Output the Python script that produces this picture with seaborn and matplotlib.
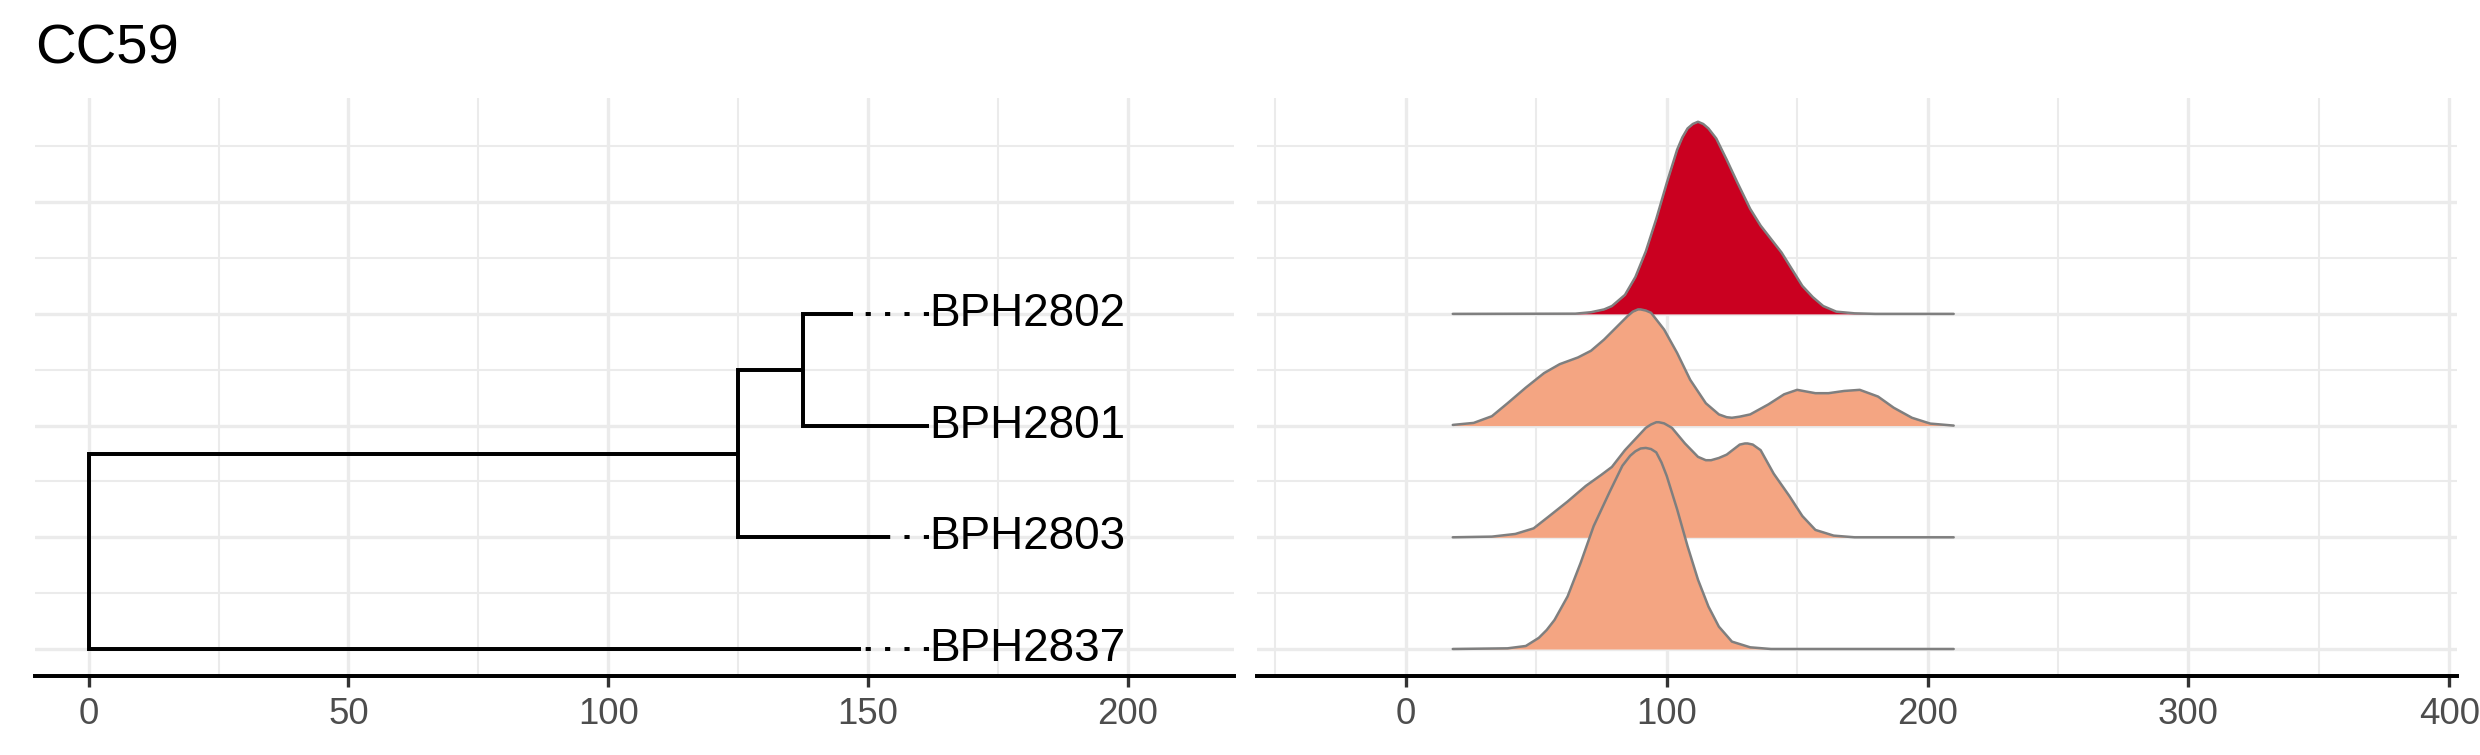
import matplotlib
matplotlib.use('Agg')
import matplotlib.pyplot as plt
from matplotlib.ticker import MultipleLocator
import pandas as pd
import seaborn as sns

# --- datos del arbol ---
tip_labels = ['BPH2837', 'BPH2803', 'BPH2801', 'BPH2802']
tip_rows = [1, 2, 3, 4]
tip_x = [148.6, 153.7, 161.8, 147.1]
node_names = ['root', 'n1', 'n2']
node_x = [0.0, 125.0, 137.5]
edge_child = ['BPH2837', 'n1', 'BPH2803', 'n2', 'BPH2801', 'BPH2802']
edge_parent = ['root', 'root', 'n1', 'n1', 'n2', 'n2']

# --- densidades (altura en unidades de fila) ---
x_bph2837 = [18, 39, 46, 51, 54, 57, 62, 67, 72, 78, 83, 86, 88, 90, 92, 94, 96, 98, 100, 104, 108, 112, 116, 120, 125, 132, 140, 210]
h_bph2837 = [0, 0.006, 0.027, 0.10, 0.17, 0.26, 0.47, 0.77, 1.10, 1.40, 1.64, 1.73, 1.77, 1.795, 1.80, 1.79, 1.76, 1.67, 1.55, 1.25, 0.92, 0.62, 0.38, 0.20, 0.066, 0.015, 0, 0]

x_bph2803 = [18, 33, 42, 49, 55, 62, 69, 75, 79, 84, 90, 92, 94, 96, 97, 99, 102, 107, 112, 115, 117, 120, 123, 128, 130, 131, 133, 136, 141, 147, 152, 157, 164, 172, 210]
h_bph2803 = [0, 0.006, 0.03, 0.08, 0.19, 0.32, 0.46, 0.56, 0.63, 0.78, 0.93, 0.98, 1.01, 1.03, 1.03, 1.02, 0.98, 0.84, 0.72, 0.69, 0.69, 0.71, 0.74, 0.83, 0.84, 0.84, 0.83, 0.78, 0.57, 0.37, 0.19, 0.066, 0.015, 0, 0]

x_bph2801 = [18, 26, 33, 39, 46, 53, 59, 66, 71, 76, 82, 85, 87, 89, 90, 92, 94, 99, 104, 109, 115, 120, 123, 125, 128, 132, 139, 145, 150, 157, 162, 168, 174, 181, 187, 194, 201, 210]
h_bph2801 = [0.006, 0.024, 0.084, 0.20, 0.34, 0.47, 0.55, 0.61, 0.67, 0.77, 0.91, 0.98, 1.02, 1.04, 1.04, 1.03, 1.01, 0.86, 0.65, 0.41, 0.20, 0.10, 0.075, 0.07, 0.08, 0.10, 0.19, 0.28, 0.32, 0.29, 0.29, 0.31, 0.32, 0.26, 0.16, 0.07, 0.018, 0]

x_bph2802 = [18, 65, 71, 76, 79, 84, 88, 92, 96, 100, 104, 106, 108, 110, 112, 114, 116, 119, 123, 127, 132, 136, 140, 144, 148, 152, 156, 160, 165, 172, 180, 210]
h_bph2802 = [0, 0.002, 0.015, 0.04, 0.07, 0.17, 0.33, 0.56, 0.85, 1.17, 1.47, 1.58, 1.66, 1.70, 1.72, 1.70, 1.66, 1.57, 1.38, 1.18, 0.94, 0.79, 0.67, 0.55, 0.40, 0.25, 0.15, 0.07, 0.02, 0.005, 0, 0]

ridge_x = [x_bph2837, x_bph2803, x_bph2801, x_bph2802]
ridge_h = [h_bph2837, h_bph2803, h_bph2801, h_bph2802]
ridge_fill = ['#F4A582', '#F4A582', '#F4A582', '#CA0020']

titulo = 'CC59'

sns.set_theme(style='white')
plt.rcParams['font.family'] = ['Liberation Sans', 'DejaVu Sans']

fig = plt.figure(figsize=(2480 / 300, 755 / 300), dpi=300)
ax1 = fig.add_axes([0.01403, 0.1046, 0.4976 - 0.01403, 0.8698 - 0.1046])
ax2 = fig.add_axes([0.5070, 0.1046, 0.9906 - 0.5070, 0.8698 - 0.1046])

YLIM = (0.758, 5.93)


def estilo(ax, xlim, major, minor):
    ax.set_xlim(xlim)
    ax.set_ylim(YLIM)
    ax.xaxis.set_major_locator(MultipleLocator(major))
    ax.xaxis.set_minor_locator(MultipleLocator(minor))
    ax.yaxis.set_major_locator(MultipleLocator(1))
    ax.yaxis.set_minor_locator(MultipleLocator(0.5))
    ax.grid(which='major', color='#EBEBEB', lw=0.8)
    ax.grid(which='minor', color='#EBEBEB', lw=0.5)
    ax.set_axisbelow(True)
    for s in ['left', 'right', 'top']:
        ax.spines[s].set_visible(False)
    ax.spines['bottom'].set_color('black')
    ax.spines['bottom'].set_linewidth(0.95)
    ax.tick_params(axis='x', which='major', length=2.75, width=0.8, color='#333333',
                   pad=2.2, labelsize=8.8, labelcolor='#4D4D4D', bottom=True)
    ax.tick_params(axis='x', which='minor', length=0)
    ax.tick_params(axis='y', which='both', length=0, labelleft=False)
    ax.set_xlabel('')
    ax.set_ylabel('')


# posiciones de los nodos
pos_x = dict(zip(tip_labels, tip_x))
pos_x.update(dict(zip(node_names, node_x)))
pos_y = dict(zip(tip_labels, tip_rows))
for n in reversed(node_names):
    hijos = [c for c, p in zip(edge_child, edge_parent) if p == n]
    pos_y[n] = sum(pos_y[h] for h in hijos) / len(hijos)

# arbol
for c, p in zip(edge_child, edge_parent):
    ax1.plot([pos_x[p], pos_x[p], pos_x[c]], [pos_y[p], pos_y[c], pos_y[c]],
             color='black', lw=0.95, solid_joinstyle='miter', solid_capstyle='butt', zorder=3)

x_max = max(tip_x)
for lab, r, tx in zip(tip_labels, tip_rows, tip_x):
    if tx < x_max:
        ax1.plot([x_max, tx], [r, r], color='black', lw=0.95,
                 linestyle=(0, (1.3, 3.6)), dash_capstyle='butt', zorder=3)
    ax1.text(x_max, r, lab, fontsize=11, color='black', ha='left', va='center', zorder=4)

estilo(ax1, (-10.35, 220.4), 50, 25)

# crestas: de arriba hacia abajo, las de abajo quedan encima
for i in [3, 2, 1, 0]:
    fila = tip_rows[i]
    df = pd.DataFrame({'x': ridge_x[i], 'h': ridge_h[i]})
    df['y'] = fila + df['h']
    z = 2 + (5 - fila) * 2
    ax2.fill_between(df['x'], fila, df['y'], color=ridge_fill[i], lw=0, zorder=z)
    sns.lineplot(data=df, x='x', y='y', ax=ax2, color='#7F7F7F', lw=0.6,
                 estimator=None, sort=False, zorder=z + 1)

estilo(ax2, (-56.9, 402.8), 100, 50)

fig.text(0.0143, 1 - 63.3 / 755, titulo, fontsize=13.5, color='black', va='baseline', ha='left')

fig.savefig('out.png', dpi=300)
